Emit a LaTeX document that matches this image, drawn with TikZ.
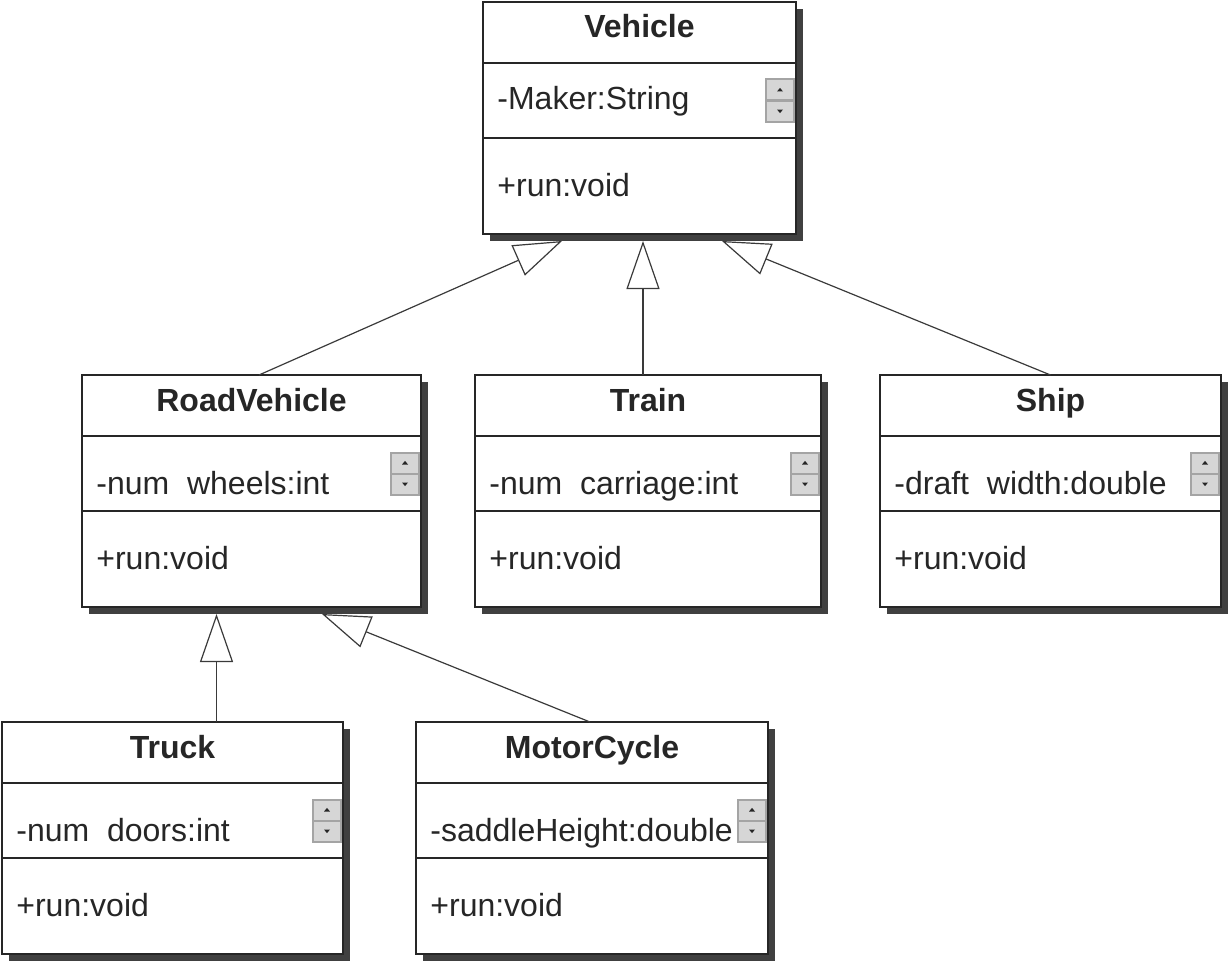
\documentclass[tikz,border=0pt]{standalone}
\usepackage{fontspec}
\setmainfont{Liberation Sans}
\usepackage{tikz}
\usetikzlibrary{arrows.meta,positioning}

\definecolor{ink}{HTML}{262626}
\definecolor{shadowgray}{HTML}{404040}
\definecolor{btnedge}{HTML}{A4A4A4}
\definecolor{btnface}{HTML}{D6D6D6}
\definecolor{linegray}{HTML}{3A3A3A}

\newcommand{\classfont}{\fontsize{16}{19}\selectfont}

\tikzset{
  box/.style={draw=ink, line width=1pt, fill=white, outer sep=0pt, inner sep=0pt, anchor=north west},
  head/.style={box, minimum height=30.5pt, font=\classfont\bfseries, text=ink, text height=11.5pt, text depth=6pt},
  part/.style={box, minimum height=#1},
  member/.style={anchor=west, inner sep=0pt, font=\classfont, text=ink, text depth=0pt, text height=#1},
  member/.default=10.5pt,
  shade/.style={fill=shadowgray},
  btn/.style={draw=btnedge, line width=1pt, fill=btnface},
  btnmark/.style={fill=ink},
  gen/.style={draw=linegray, line width=0.6pt, -{Triangle[open, fill=white, length=24pt, width=16.5pt]}}
}

\begin{document}
\begin{tikzpicture}[x=0.5pt,y=-0.5pt]
\useasboundingbox (0,0) rectangle (1229,963);

% class boxes with shadow and scroll buttons
\foreach \n/\x/\y/\w/\cls/\attr/\lift in {
  veh/483/2/313/Vehicle/{-Maker:String}/9.5pt,
  rv/82/375/339/RoadVehicle/{-num\phantom{\_}wheels:int}/20.5pt,
  train/475/375/346/Train/{-num\phantom{\_}carriage:int}/20.5pt,
  ship/880/375/341/Ship/{-draft\phantom{\_}width:double}/20.5pt,
  truck/2/722/341/Truck/{-num\phantom{\_}doors:int}/20.5pt,
  moto/416/722/352/MotorCycle/{-saddleHeight:double}/20.5pt}
{
  \fill[shade] (\x+7,\y+7) rectangle (\x+\w+7,\y+239);
  \node[head, minimum width=\w*0.5pt] (\n) at (\x,\y) {\cls};
  \node[part=37.5pt, minimum width=\w*0.5pt, below=0pt of \n] (\n-a) {};
  \node[part=48pt, minimum width=\w*0.5pt, below=0pt of \n-a] (\n-o) {};
  \node[member=\lift] (\n-at) at ([xshift=7pt]\n-a.west) {\attr};
  \node[member] (\n-ot) at ([xshift=7pt]\n-o.west) {+run:void};
  \draw[btn] ([xshift=-15pt,yshift=10.5pt]\n-a.east) rectangle ([xshift=-1pt,yshift=-10.5pt]\n-a.east);
  \draw[btn] ([xshift=-15pt]\n-a.east) -- ([xshift=-1pt]\n-a.east);
  \fill[btnmark] ([xshift=-9.5pt,yshift=4.5pt]\n-a.east) -- ++(3pt,0pt) -- ++(-1.5pt,1.8pt) -- cycle;
  \fill[btnmark] ([xshift=-9.5pt,yshift=-4.5pt]\n-a.east) -- ++(3pt,0pt) -- ++(-1.5pt,-1.8pt) -- cycle;
}

% generalisations
\draw[gen] ([xshift=3.75pt]rv.north) -- ([xshift=-38.75pt,yshift=-3.5pt]veh-o.south);
\draw[gen] ([xshift=-2.5pt]train.north) -- ([xshift=1.75pt,yshift=-3.5pt]veh-o.south);
\draw[gen] (ship.north) -- ([xshift=41.25pt,yshift=-3.5pt]veh-o.south);
\draw[gen] ([xshift=22pt]truck.north) -- ([xshift=-17.5pt,yshift=-3.5pt]rv-o.south);
\draw[gen] ([xshift=-1pt]moto.north) -- ([xshift=35.25pt,yshift=-3.5pt]rv-o.south);

\end{tikzpicture}
\end{document}
